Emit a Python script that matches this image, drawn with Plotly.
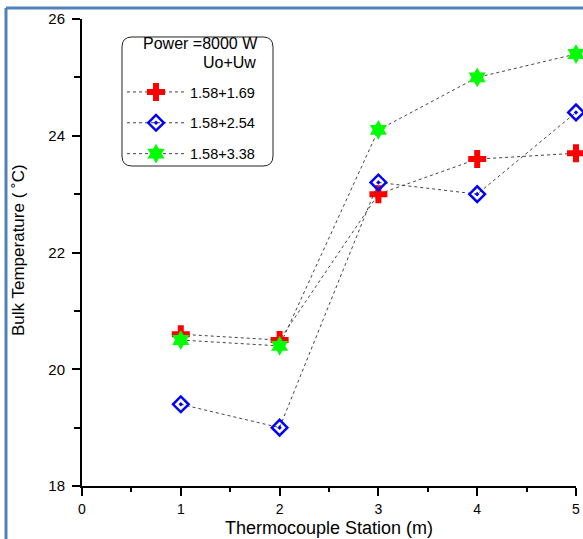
import plotly.graph_objects as go

stations = [1, 2, 3, 4, 5]
series_names = ["1.58+1.69", "1.58+2.54", "1.58+3.38"]
temp_169 = [20.6, 20.5, 23.0, 23.6, 23.7]
temp_254 = [19.4, 19.0, 23.2, 23.0, 24.4]
temp_338 = [20.5, 20.4, 24.1, 25.0, 25.4]
x_ticks = [0, 1, 2, 3, 4, 5]
y_ticks = [18, 20, 22, 24, 26]

W, H = 583, 539
L, R, T, B = 82, 7, 19, 53
PW, PH = W - L - R, H - T - B

def px(x):
    return (x - L) / PW

def py(y):
    return (H - B - y) / PH

FONT = "Arial, Liberation Sans, sans-serif"

fig = go.Figure()
styles = [
    dict(symbol="cross", size=15, color="#FF0000", line=dict(width=0)),
    dict(symbol="diamond-open-dot", size=12, color="#0000FF", line=dict(width=2.5, color="#0000FF")),
    dict(symbol="hexagram", size=15, color="#00FF00", line=dict(width=0)),
]
for i, (name, ys) in enumerate(zip(series_names, [temp_169, temp_254, temp_338])):
    fig.add_trace(go.Scatter(
        x=stations, y=ys, name=name, mode="lines+markers",
        line=dict(color="#444444", width=1, dash="dot"),
        marker=styles[i], cliponaxis=False, legendgroup=f"g{i}",
    ))

# rounded legend box
x0, x1, y0, y1, r = 122, 273, 37, 166, 10
def P(x, y):
    return f"{px(x):.5f},{py(y):.5f}"
path = (f"M {P(x0+r,y0)} L {P(x1-r,y0)} Q {P(x1,y0)} {P(x1,y0+r)} "
        f"L {P(x1,y1-r)} Q {P(x1,y1)} {P(x1-r,y1)} L {P(x0+r,y1)} "
        f"Q {P(x0,y1)} {P(x0,y1-r)} L {P(x0,y0+r)} Q {P(x0,y0)} {P(x0+r,y0)} Z")
shapes = [
    dict(type="path", xref="paper", yref="paper", path=path,
         line=dict(color="#222222", width=1), fillcolor="white", layer="below"),
    dict(type="line", xref="paper", yref="paper", x0=px(6), x1=px(590), y0=py(8), y1=py(8),
         line=dict(color="#4F81BD", width=3)),
    dict(type="line", xref="paper", yref="paper", x0=px(6), x1=px(6), y0=py(8), y1=py(545),
         line=dict(color="#4F81BD", width=3)),
]

annotations = [
    dict(xref="paper", yref="paper", x=px(200), y=py(44), text="Power =8000 W",
         showarrow=False, font=dict(size=16, color="black", family=FONT), xanchor="center", yanchor="middle"),
    dict(xref="paper", yref="paper", x=px(258), y=py(62), text="Uo+Uw",
         showarrow=False, font=dict(size=16, color="black", family=FONT), xanchor="right", yanchor="middle"),
    dict(xref="paper", yref="paper", x=px(19), y=py(250), text="Bulk Temperature ( ˚C)",
         textangle=-90, showarrow=False, font=dict(size=17, color="black", family=FONT),
         xanchor="center", yanchor="middle"),
    dict(xref="paper", yref="paper", x=px(329), y=py(528), text="Thermocouple Station (m)",
         showarrow=False, font=dict(size=18, color="black", family=FONT),
         xanchor="center", yanchor="middle"),
]

fig.update_layout(
    width=W, height=H,
    margin=dict(l=L, r=R, t=T, b=B, autoexpand=False),
    paper_bgcolor="white", plot_bgcolor="white",
    font=dict(family=FONT, color="black"),
    shapes=shapes, annotations=annotations,
    showlegend=True,
    legend=dict(x=px(122), y=py(76), xanchor="left", yanchor="top",
                bgcolor="rgba(0,0,0,0)", borderwidth=0, itemwidth=58,
                font=dict(size=14.5, family=FONT), traceorder="grouped", tracegroupgap=9),
    xaxis=dict(range=[0, 5], tickvals=x_ticks, showline=True, linecolor="black", linewidth=2,
               ticks="outside", ticklen=8, tickwidth=2, tickcolor="black", showgrid=False, zeroline=False,
               tickfont=dict(size=14), ticklabelstandoff=1, automargin=False,
               minor=dict(dtick=0.5, ticks="outside", ticklen=4, tickwidth=2, tickcolor="black")),
    yaxis=dict(range=[18, 26], tickvals=y_ticks, showline=True, linecolor="black", linewidth=2,
               ticks="outside", ticklen=8, tickwidth=2, tickcolor="black", showgrid=False, zeroline=False,
               tickfont=dict(size=15), ticklabelstandoff=4, automargin=False,
               minor=dict(dtick=1, ticks="outside", ticklen=6, tickwidth=2, tickcolor="black")),
)

fig.write_html("out.html")
